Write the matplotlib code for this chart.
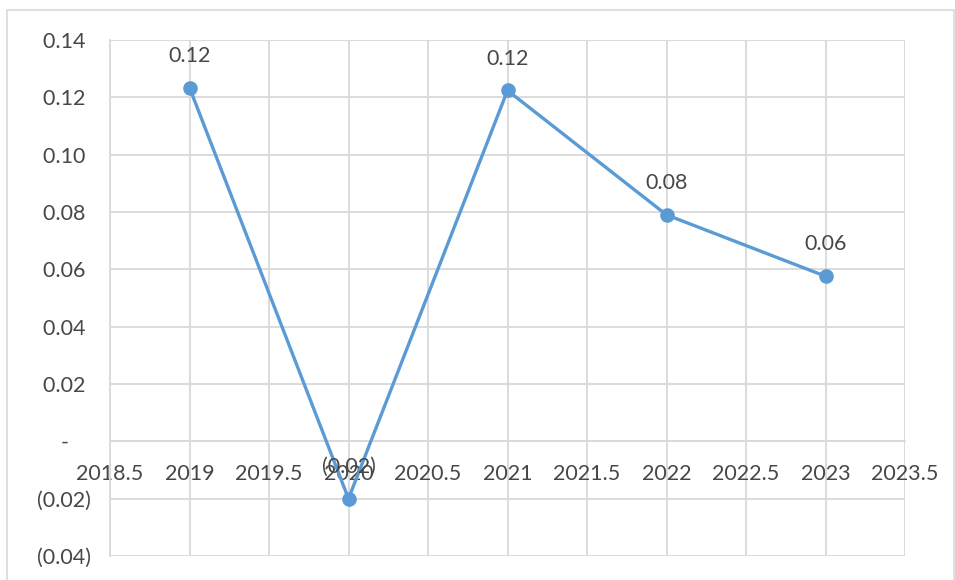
import matplotlib
matplotlib.use("Agg")
import matplotlib.pyplot as plt
from matplotlib.patches import Rectangle

years = [2019, 2020, 2021, 2022, 2023]
values = [0.1234, -0.0200, 0.1224, 0.0790, 0.0576]
point_labels = ["0.12", "(0.02)", "0.12", "0.08", "0.06"]

x_ticks = [2018.5, 2019, 2019.5, 2020, 2020.5, 2021, 2021.5, 2022, 2022.5, 2023, 2023.5]
x_tick_labels = ["2018.5", "2019", "2019.5", "2020", "2020.5", "2021", "2021.5",
                 "2022", "2022.5", "2023", "2023.5"]
y_ticks = [-0.04, -0.02, 0.0, 0.02, 0.04, 0.06, 0.08, 0.10, 0.12, 0.14]
y_tick_labels = ["(0.04)", "(0.02)", "-    ", "0.02 ", "0.04 ", "0.06 ", "0.08 ",
                 "0.10 ", "0.12 ", "0.14 "]

plt.rcParams['font.family'] = ['Lato', 'DejaVu Sans']
text_col = "#474747"
grid_col = "#D9D9D9"
line_col = "#5B9BD5"
fs = 15.5

fig = plt.figure(figsize=(9.55, 5.8), dpi=100)
ax = fig.add_axes([110 / 955, 1 - 556 / 580, 795 / 955, 516 / 580])

# outer chart border
fig.patches.append(Rectangle((7 / 955, -0.05), 947 / 955, 1.05 - 10 / 580,
                             transform=fig.transFigure, fill=False,
                             edgecolor=grid_col, linewidth=1.2))

ax.plot(years, values, color=line_col, linewidth=2.4, marker="o",
        markersize=9.5, zorder=3)
for x, y, lab in zip(years, values, point_labels):
    ax.annotate(lab, (x, y), xytext=(0, 23), textcoords="offset points",
                ha="center", va="center", fontsize=fs, color=text_col, zorder=4)

ax.set_xlim(2018.5, 2023.5)
ax.set_ylim(-0.04, 0.14)
ax.set_xticks(x_ticks)
ax.set_xticklabels(x_tick_labels)
ax.set_yticks(y_ticks)
ax.set_yticklabels(y_tick_labels)

ax.grid(True, color=grid_col, linewidth=1.3)
ax.set_axisbelow(True)
for s in ["top", "right"]:
    ax.spines[s].set_visible(False)
ax.spines["left"].set_color(grid_col)
ax.spines["left"].set_linewidth(1.3)
ax.spines["bottom"].set_position(("data", 0))
ax.spines["bottom"].set_color(grid_col)
ax.spines["bottom"].set_linewidth(1.3)
ax.tick_params(axis="both", length=0, labelsize=fs, labelcolor=text_col)
ax.tick_params(axis="x", pad=16)
ax.tick_params(axis="y", pad=14)

fig.savefig("out.png", dpi=100)
